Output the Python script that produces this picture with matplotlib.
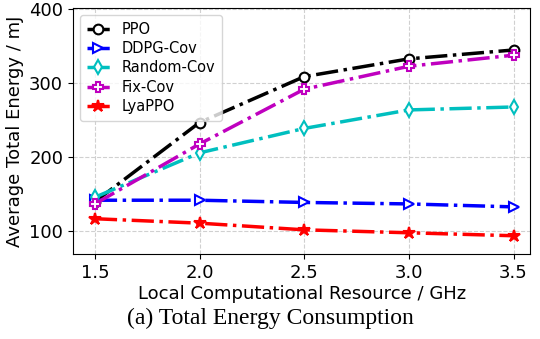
import matplotlib
matplotlib.use("Agg")
import matplotlib.pyplot as plt

x = [1.5, 2.0, 2.5, 3.0, 3.5]
ppo = [140, 247, 309, 333, 345]
ddpg_cov = [142, 142, 139, 137, 133]
random_cov = [146, 206, 239, 264, 268]
fix_cov = [137, 218, 292, 323, 338]
lyappo = [117, 111, 102, 98, 94]

series = [
    ("PPO", ppo, "k", "o"),
    ("DDPG-Cov", ddpg_cov, "b", ">"),
    ("Random-Cov", random_cov, "c", "d"),
    ("Fix-Cov", fix_cov, "m", "P"),
    ("LyaPPO", lyappo, "r", "*"),
]

fig = plt.figure(figsize=(5.4, 3.39), dpi=100)
ax = fig.add_axes([0.135, 0.25, 0.847, 0.727])
for label, vals, c, m in series:
    fc = c if m == "*" else "white"
    ax.plot(x, vals, linestyle="-.", color=c, marker=m, markersize=7 if m != "*" else 9,
            markerfacecolor=fc, markeredgewidth=1.5, linewidth=2.5, label=label)

ax.set_xticks(x)
ax.set_xlim(1.395, 3.58)
ax.set_ylim(69, 402)
ax.set_yticks([100, 200, 300, 400])
ax.tick_params(labelsize=13)
ax.grid(True, linestyle="--", color="#d0d0d0", linewidth=0.8)
ax.set_xlabel("Local Computational Resource / GHz", fontsize=13, labelpad=2)
ax.set_ylabel("Average Total Energy / mJ", fontsize=13)
ax.legend(loc="upper left", fontsize=10.5, handlelength=1.6, borderpad=0.45,
          labelspacing=0.3, handletextpad=0.8)
fig.text(0.5, 0.03, "(a) Total Energy Consumption", ha="center", va="bottom",
         fontsize=17, family="Liberation Serif")
fig.savefig("out.png", dpi=100)
